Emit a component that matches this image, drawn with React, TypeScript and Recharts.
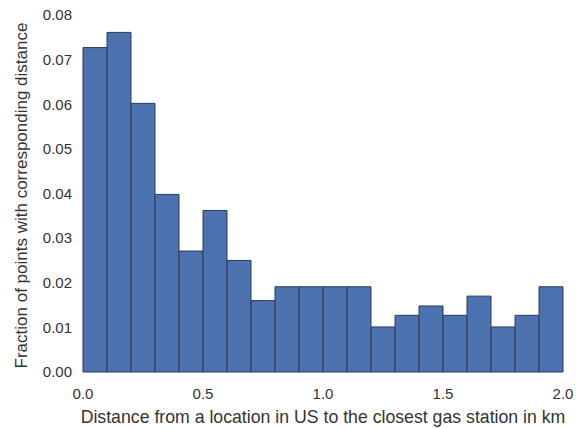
import { Bar, BarChart, Label, XAxis, YAxis } from "recharts";

const binStarts = [
  0.0, 0.1, 0.2, 0.3, 0.4, 0.5, 0.6, 0.7, 0.8, 0.9,
  1.0, 1.1, 1.2, 1.3, 1.4, 1.5, 1.6, 1.7, 1.8, 1.9,
];

const fractions = [
  0.0727, 0.0761, 0.0602, 0.0398, 0.0271, 0.0362, 0.025, 0.016, 0.0191, 0.0191,
  0.0191, 0.0191, 0.0101, 0.0127, 0.0148, 0.0127, 0.017, 0.0101, 0.0127, 0.0191,
];

const xTicks = [0, 0.5, 1.0, 1.5, 2.0];
const yTicks = [0, 0.01, 0.02, 0.03, 0.04, 0.05, 0.06, 0.07, 0.08];

const data = binStarts.map((start, i) => ({
  bin: `b${i}`,
  start,
  value: fractions[i],
}));

const font = "'Liberation Sans', Arial, sans-serif";
const tickStyle = { fill: "#333", fontSize: 15, fontFamily: font };

export default function App() {
  return (
    <div style={{ position: "absolute", left: 0, top: 0, background: "#fff" }}>
      <BarChart
        width={580}
        height={429}
        data={data}
        barCategoryGap={0}
        margin={{ top: 15, right: 17, bottom: 0, left: 0 }}
      >
        <XAxis
          xAxisId="dist"
          dataKey="start"
          type="number"
          domain={[0, 2]}
          allowDataOverflow
          ticks={xTicks}
          tickFormatter={(v: number) => v.toFixed(1)}
          axisLine={false}
          tickLine={false}
          tickMargin={10}
          height={57}
          tick={tickStyle}
        >
          <Label
            value="Distance from a location in US to the closest gas station in km"
            position="center"
            dy={16}
            style={{ fill: "#333", fontSize: 17.7, fontFamily: font }}
          />
        </XAxis>
        <XAxis xAxisId="bins" dataKey="bin" hide height={0} />
        <YAxis
          width={83}
          domain={[0, 0.08]}
          ticks={yTicks}
          tickFormatter={(v: number) => v.toFixed(2)}
          axisLine={false}
          tickLine={false}
          tickMargin={5}
          tick={tickStyle}
        >
          <Label
            value="Fraction of points with corresponding distance"
            angle={-90}
            position="center"
            dx={-21}
            dy={2}
            style={{ fill: "#333", fontSize: 17, fontFamily: font, textAnchor: "middle" }}
          />
        </YAxis>
        <Bar
          xAxisId="bins"
          dataKey="value"
          fill="#4c72b0"
          stroke="#2a3b58"
          strokeWidth={1}
          isAnimationActive={false}
        />
      </BarChart>
    </div>
  );
}
